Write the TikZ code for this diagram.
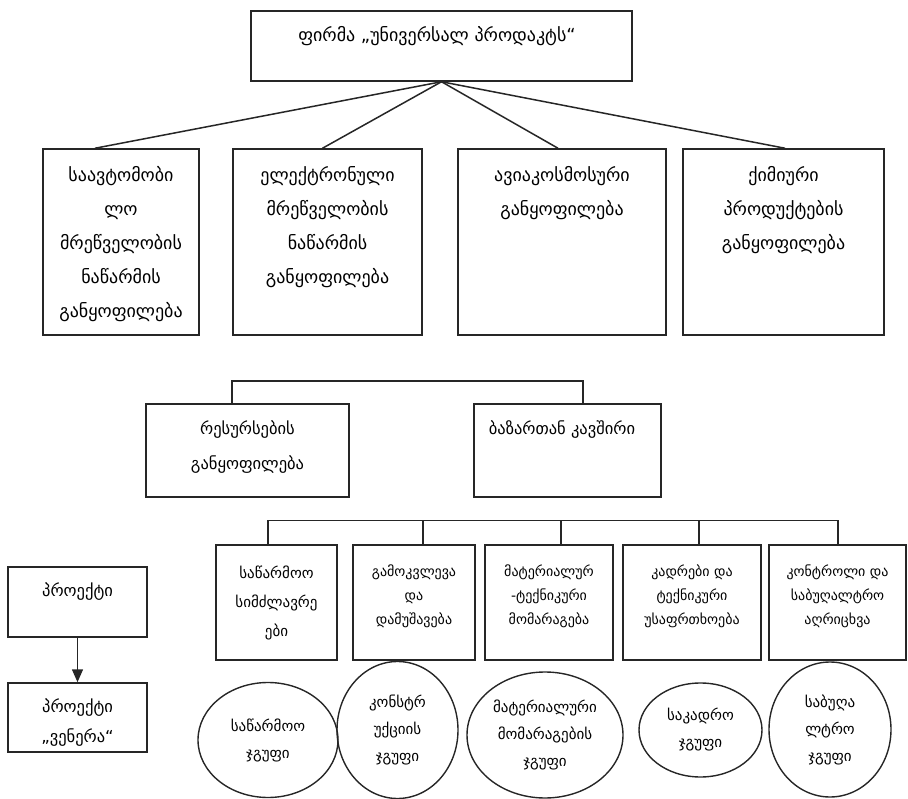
\documentclass[tikz,border=0pt]{standalone}
\usepackage{fontspec}
\setmainfont{DejaVu Sans}
\newfontfamily\geo[Script=Georgian]{DejaVu Sans}
\usetikzlibrary{shapes.geometric,arrows.meta}

\begin{document}
\begin{tikzpicture}[x=1pt,y=-1pt,
  frame/.style={draw=black!85, line width=1.5pt, inner sep=0pt},
  oval/.style={ellipse, draw=black!85, line width=1.4pt, inner sep=0pt, align=center,
    font=\geo\fontsize{15}{27}\selectfont, text=black},
  lbl/.style={align=center, inner sep=0pt, text=black},
  big/.style={lbl, font=\geo\fontsize{18}{34}\selectfont},
  mid/.style={lbl, font=\geo\fontsize{16.5}{35}\selectfont},
  small/.style={lbl, font=\geo\fontsize{14}{24}\selectfont},
  link/.style={draw=black!85, line width=1.5pt}
]
\useasboundingbox (0,0) rectangle (908,799);

% head office
\node[frame, minimum width=381, minimum height=70] (top) at (441.5,46) {};
\node[big] (topT) at (437,36) {ფირმა „უნივერსალ პროდაკტს“};

% four divisions
\node[frame, minimum width=156, minimum height=186] (b1) at (121,242) {};
\node[frame, minimum width=189, minimum height=186] (b2) at (327.5,242) {};
\node[frame, minimum width=208, minimum height=186] (b3) at (562,242) {};
\node[frame, minimum width=201, minimum height=186] (b4) at (783.5,242) {};
\node[big] (b1T) at (121,244.5) {საავტომობი\\ლო\\მრეწველობის\\ნაწარმის\\განყოფილება};
\node[big] (b2T) at (327.5,227.5) {ელექტრონული\\მრეწველობის\\ნაწარმის\\განყოფილება};
\node[big] (b3T) at (562,193.5) {ავიაკოსმოსური\\განყოფილება};
\node[big] (b4T) at (783.5,210) {ქიმიური\\პროდუქტების\\განყოფილება};

\draw[link] (top.south) -- ([xshift=-26pt]b1.north);
\draw[link] (top.south) -- ([xshift=-5pt]b2.north);
\draw[link] (top.south) -- ([xshift=-4pt]b3.north);
\draw[link] (top.south) -- ([xshift=1.5pt]b4.north);

% service departments
\node[frame, minimum width=203, minimum height=93] (m1) at (247.5,450.5) {};
\node[frame, minimum width=187, minimum height=93] (m2) at (567.5,450.5) {};
\node[mid] (m1T) at (247.5,447.5) {რესურსების\\განყოფილება};
\node[mid] (m2T) at (562,430) {ბაზართან კავშირი};
\draw[link] ([xshift=-15.5pt]m1.north) -- ++(0,-22) -| ([xshift=15.5pt]m2.north);

% groups of the market link
\node[frame, minimum width=121, minimum height=115] (c1) at (276.5,602.5) {};
\node[frame, minimum width=122, minimum height=115] (c2) at (414,602.5) {};
\node[frame, minimum width=128, minimum height=115] (c3) at (549,602.5) {};
\node[frame, minimum width=138, minimum height=115] (c4) at (692,602.5) {};
\node[frame, minimum width=137, minimum height=115] (c5) at (837.5,602.5) {};
\node[lbl, font=\geo\fontsize{15}{29}\selectfont] (c1T) at (276.5,603) {საწარმოო\\სიმძლავრე\\ები};
\node[small] (c2T) at (414,596) {გამოკვლევა\\და\\დამუშავება};
\node[small] (c3T) at (549,596) {მატერიალურ\\-ტექნიკური\\მომარაგება};
\node[small] (c4T) at (692,596) {კადრები და\\ტექნიკური\\უსაფრთხოება};
\node[small] (c5T) at (837.5,596) {კონტროლი და\\საბუღალტრო\\აღრიცხვა};

\draw[link] ([xshift=-8.5pt]c1.north) -- ++(0,-24) coordinate (bus) -| ([xshift=0.5pt]c5.north);
\draw[link] ([xshift=9pt]c2.north) |- (bus);
\draw[link] ([xshift=12pt]c3.north) |- (bus);
\draw[link] ([xshift=7pt]c4.north) |- (bus);

% project
\node[frame, minimum width=139, minimum height=70] (p1) at (77.5,602) {};
\node[frame, minimum width=139, minimum height=69] (p2) at (77.5,717.5) {};
\node[lbl, font=\geo\fontsize{16.5}{30}\selectfont] (p1T) at (77.5,592) {პროექტი};
\node[lbl, font=\geo\fontsize{16.5}{30}\selectfont] (p2T) at (77.5,723) {პროექტი\\„ვენერა“};
\draw[link, -{Triangle[length=13pt,width=11pt]}] (p1.south) -- (p2.north);

% working groups
\node[oval, minimum width=140, minimum height=115] (e1) at (268,740) {საწარმოო\\ჯგუფი};
\node[oval, minimum width=121, minimum height=137] (e2) at (397.5,730) {კონსტრ\\უქციის\\ჯგუფი};
\node[oval, minimum width=156, minimum height=126] (e3) at (545,735) {მატერიალური\\მომარაგების\\ჯგუფი};
\node[oval, minimum width=123, minimum height=94] (e4) at (700.5,730) {საკადრო\\ჯგუფი};
\node[oval, minimum width=122, minimum height=135] (e5) at (830,729.5) {საბუღა\\ლტრო\\ჯგუფი};
\end{tikzpicture}
\end{document}
